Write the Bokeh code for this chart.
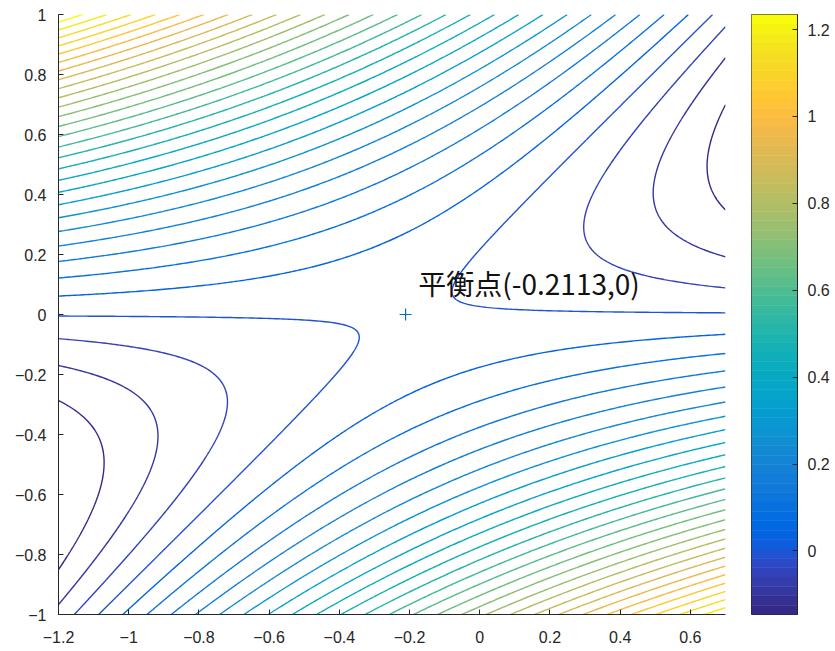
import numpy as np
from bokeh.plotting import figure
from bokeh.layouts import row
from bokeh.models import Range1d, FixedTicker, CustomJSTickFormatter
from bokeh.core.properties import value
from bokeh.embed import file_html
from bokeh.resources import INLINE

# ---- data ----
X_EQ = -0.2113          # equilibrium point (saddle)
Y_EQ = 0.0
A_COEF = 0.60           # coefficient of y^2
B_COEF = 0.69           # coefficient of (x - X_EQ)*y
N_LEVELS = 30
X_LIM = [-1.2, 0.7]
Y_LIM = [-1.0, 1.0]
X_TICKS = [-1.2, -1.0, -0.8, -0.6, -0.4, -0.2, 0.0, 0.2, 0.4, 0.6]
Y_TICKS = [-1.0, -0.8, -0.6, -0.4, -0.2, 0.0, 0.2, 0.4, 0.6, 0.8, 1.0]
CB_TICKS = [0.0, 0.2, 0.4, 0.6, 0.8, 1.0, 1.2]
LABEL = "平衡点(-0.2113,0)"
LABEL_X = -0.175
LABEL_Y = 0.105

PARULA = [
 (0.2081,0.1663,0.5292),(0.2116,0.1898,0.5777),(0.2123,0.2138,0.6270),(0.2081,0.2386,0.6771),
 (0.1959,0.2645,0.7279),(0.1707,0.2919,0.7792),(0.1253,0.3242,0.8303),(0.0591,0.3598,0.8683),
 (0.0117,0.3875,0.8820),(0.0060,0.4086,0.8828),(0.0165,0.4266,0.8786),(0.0329,0.4430,0.8720),
 (0.0498,0.4586,0.8641),(0.0629,0.4737,0.8554),(0.0723,0.4887,0.8467),(0.0779,0.5040,0.8384),
 (0.0793,0.5200,0.8312),(0.0749,0.5375,0.8263),(0.0641,0.5570,0.8240),(0.0488,0.5772,0.8228),
 (0.0343,0.5966,0.8199),(0.0265,0.6137,0.8135),(0.0239,0.6287,0.8038),(0.0231,0.6418,0.7913),
 (0.0228,0.6535,0.7768),(0.0267,0.6642,0.7607),(0.0384,0.6743,0.7436),(0.0590,0.6838,0.7254),
 (0.0843,0.6928,0.7062),(0.1133,0.7015,0.6859),(0.1453,0.7098,0.6646),(0.1801,0.7177,0.6424),
 (0.2178,0.7250,0.6193),(0.2586,0.7317,0.5954),(0.3022,0.7376,0.5712),(0.3482,0.7424,0.5473),
 (0.3953,0.7459,0.5244),(0.4420,0.7481,0.5033),(0.4871,0.7491,0.4840),(0.5300,0.7491,0.4661),
 (0.5709,0.7485,0.4494),(0.6099,0.7473,0.4337),(0.6473,0.7456,0.4188),(0.6834,0.7435,0.4044),
 (0.7184,0.7411,0.3905),(0.7525,0.7384,0.3768),(0.7858,0.7356,0.3633),(0.8185,0.7327,0.3498),
 (0.8507,0.7299,0.3360),(0.8824,0.7274,0.3217),(0.9139,0.7258,0.3063),(0.9450,0.7261,0.2886),
 (0.9739,0.7314,0.2666),(0.9938,0.7455,0.2403),(0.9990,0.7653,0.2164),(0.9955,0.7861,0.1967),
 (0.9880,0.8066,0.1794),(0.9789,0.8271,0.1633),(0.9697,0.8481,0.1475),(0.9626,0.8705,0.1309),
 (0.9589,0.8949,0.1132),(0.9598,0.9218,0.0948),(0.9661,0.9514,0.0755),(0.9763,0.9831,0.0538)]
PAL = ["#%02x%02x%02x" % tuple(int(round(c * 255)) for c in rgb) for rgb in PARULA]

# ---- surface (first integral around the saddle) ----
xs = np.linspace(X_LIM[0], X_LIM[1], 241)
ys = np.linspace(Y_LIM[0], Y_LIM[1], 241)
XX, YY = np.meshgrid(xs, ys)
ZZ = A_COEF * (YY - Y_EQ) ** 2 - B_COEF * (XX - X_EQ) * (YY - Y_EQ)

zmin, zmax = float(ZZ.min()), float(ZZ.max())
levels = list(np.linspace(zmin, zmax, N_LEVELS + 2)[1:-1])
cmin, cmax = levels[0], levels[-1]
m = len(PAL)
line_colors = [PAL[min(m - 1, int((lv - cmin) / (cmax - cmin) * m))] for lv in levels]

AX = "#262626"
FONT = "Liberation Sans"
fmt = CustomJSTickFormatter(code="""
    if (Math.abs(tick) < 1e-9) return "0";
    const s = (+tick.toFixed(1)).toString();
    return s.replace("-", "\u2212");
""")

p = figure(width=740, height=651, output_backend="svg", toolbar_location=None,
           x_range=Range1d(*X_LIM), y_range=Range1d(*Y_LIM),
           min_border_left=58, min_border_right=15, min_border_top=14, min_border_bottom=37)
p.background_fill_color = "white"
p.border_fill_color = "white"
p.outline_line_color = None
p.xgrid.visible = False
p.ygrid.visible = False

p.contour(xs, ys, ZZ, levels, fill_color=None, line_color=line_colors, line_width=1.4)

p.scatter([X_EQ], [Y_EQ], marker="cross", size=12, line_color="#0072BD", line_width=1.2)
p.text(x=[LABEL_X], y=[LABEL_Y], text=[LABEL], text_font=value("Noto Sans CJK JP"),
       text_font_size="28px", text_baseline="middle", text_align="left", text_color="#111111")

for ax, ticks in ((p.xaxis, X_TICKS), (p.yaxis, Y_TICKS)):
    ax.ticker = FixedTicker(ticks=ticks)
    ax.formatter = fmt
    ax.axis_line_color = AX
    ax.major_tick_line_color = AX
    ax.major_tick_in = 5
    ax.major_tick_out = 0
    ax.minor_tick_line_color = None
    ax.major_label_text_color = AX
    ax.major_label_text_font = FONT
    ax.major_label_text_font_size = "16px"
p.yaxis.major_label_standoff = 12
p.xaxis.major_label_standoff = 16

# ---- colorbar ----
cb = figure(width=95, height=651, output_backend="svg", toolbar_location=None,
            x_range=Range1d(0, 1), y_range=Range1d(cmin, cmax), y_axis_location="right",
            min_border_left=11, min_border_right=38, min_border_top=13, min_border_bottom=37)
edges = np.linspace(cmin, cmax, m + 1)
cb.quad(left=0, right=1, bottom=edges[:-1], top=edges[1:], fill_color=PAL, line_color=PAL, line_width=0.5)
cb.xaxis.visible = False
cb.xgrid.visible = False
cb.ygrid.visible = False
cb.outline_line_color = AX
cb.outline_line_width = 1
cb.border_fill_color = "white"
cb.yaxis.ticker = FixedTicker(ticks=CB_TICKS)
cb.yaxis.formatter = fmt
cb.yaxis.axis_line_color = AX
cb.yaxis.major_tick_line_color = AX
cb.yaxis.major_tick_in = 5
cb.yaxis.major_tick_out = 0
cb.yaxis.minor_tick_line_color = None
cb.yaxis.major_label_text_color = AX
cb.yaxis.major_label_text_font = FONT
cb.yaxis.major_label_text_font_size = "16px"
cb.yaxis.major_label_standoff = 10

layout = row(p, cb, spacing=0)
open("out.html", "w").write(file_html(layout, INLINE))
